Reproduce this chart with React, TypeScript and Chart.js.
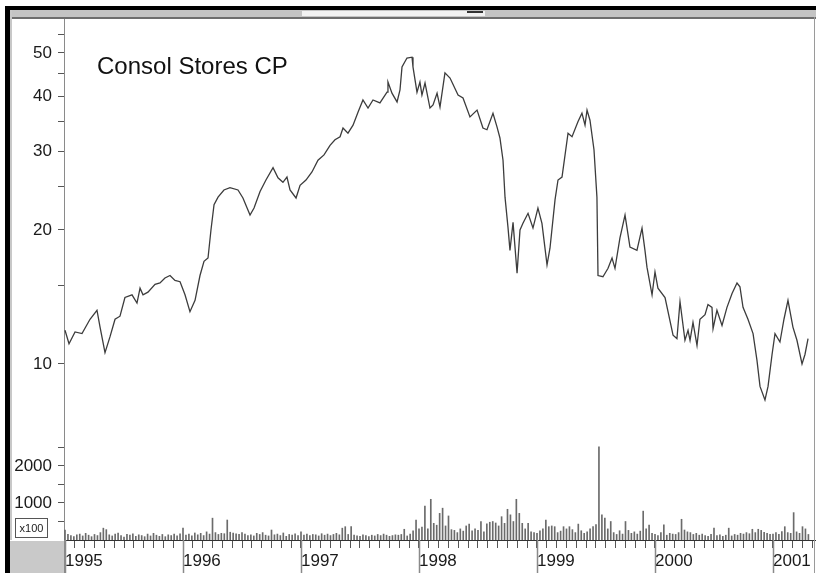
import React, { useEffect, useRef } from 'react';
import { Chart, registerables } from 'chart.js';

Chart.register(...registerables);

const TITLE = 'Consol Stores CP';
const yearLabels = ['1995', '1996', '1997', '1998', '1999', '2000', '2001'];
const firstYear = 1995;
const priceMajorTicks = [10, 20, 30, 40, 50];
const priceMinorTicks = [15, 25, 35, 45, 55];
const volumeMajorTicks = [1000, 2000];
const volumeMinorTicks = [500, 1500, 2500];
const volumeUnitLabel = 'x100';

const priceDates = [
  1995.000, 1995.034, 1995.085, 1995.144, 1995.212, 1995.271, 1995.297, 1995.339, 1995.381, 1995.424,
  1995.466, 1995.508, 1995.568, 1995.610, 1995.636, 1995.661, 1995.703, 1995.763, 1995.805, 1995.847,
  1995.890, 1995.932, 1995.975, 1996.017, 1996.059, 1996.102, 1996.144, 1996.178, 1996.212, 1996.237,
  1996.263, 1996.297, 1996.347, 1996.398, 1996.466, 1996.508, 1996.568, 1996.602, 1996.653, 1996.703,
  1996.763, 1996.805, 1996.847, 1996.881, 1996.907, 1996.958, 1996.992, 1997.042, 1997.093, 1997.144,
  1997.195, 1997.246, 1997.288, 1997.331, 1997.356, 1997.398, 1997.441, 1997.483, 1997.525, 1997.568,
  1997.610, 1997.669, 1997.729, 1997.737, 1997.771, 1997.814, 1997.839, 1997.856, 1997.898, 1997.941,
  1997.949, 1997.983, 1998.008, 1998.025, 1998.051, 1998.068, 1998.093, 1998.119, 1998.153, 1998.178,
  1998.220, 1998.263, 1998.331, 1998.373, 1998.432, 1998.492, 1998.542, 1998.576, 1998.627, 1998.661,
  1998.686, 1998.712, 1998.729, 1998.754, 1998.771, 1998.797, 1998.831, 1998.856, 1998.881, 1998.924,
  1998.966, 1999.008, 1999.042, 1999.085, 1999.110, 1999.153, 1999.178, 1999.212, 1999.263, 1999.297,
  1999.347, 1999.381, 1999.407, 1999.424, 1999.449, 1999.483, 1999.508, 1999.517, 1999.559, 1999.602,
  1999.636, 1999.661, 1999.703, 1999.746, 1999.788, 1999.847, 1999.890, 1999.915, 1999.932, 1999.975,
  2000.000, 2000.025, 2000.085, 2000.153, 2000.186, 2000.212, 2000.254, 2000.280, 2000.297, 2000.322,
  2000.356, 2000.381, 2000.424, 2000.449, 2000.483, 2000.492, 2000.525, 2000.568, 2000.610, 2000.653,
  2000.695, 2000.720, 2000.746, 2000.788, 2000.831, 2000.864, 2000.890, 2000.932, 2000.958, 2000.992,
  2001.017, 2001.059, 2001.093, 2001.127, 2001.169, 2001.203, 2001.246, 2001.271, 2001.297,
];

const priceValues = [
  11.9, 11.1, 11.8, 11.7, 12.6, 13.2, 12.1, 10.6, 11.5, 12.6,
  12.8, 14.1, 14.3, 13.7, 14.8, 14.3, 14.5, 15.1, 15.2, 15.6,
  15.8, 15.4, 15.3, 14.3, 13.1, 13.9, 15.8, 17.0, 17.3, 20.0,
  22.8, 23.7, 24.6, 24.9, 24.6, 23.6, 21.6, 22.4, 24.4, 25.9,
  27.6, 26.2, 25.6, 26.3, 24.6, 23.6, 25.2, 25.9, 27.0, 28.7,
  29.5, 31.0, 31.9, 32.4, 33.9, 33.0, 34.4, 36.8, 39.2, 37.6,
  39.2, 38.6, 40.8, 43.0, 40.6, 38.8, 41.3, 46.5, 48.7, 48.9,
  46.5, 40.8, 43.0, 40.2, 42.8, 40.6, 37.6, 38.2, 40.6, 37.8,
  45.1, 43.9, 40.2, 39.6, 35.9, 37.2, 33.9, 33.6, 36.6, 34.1,
  32.2, 28.7, 23.7, 20.3, 18.0, 20.8, 16.0, 20.0, 20.7, 21.8,
  20.2, 22.4, 20.7, 16.7, 18.2, 23.4, 25.9, 26.3, 33.0, 32.4,
  35.0, 36.6, 34.4, 37.2, 35.3, 30.3, 23.7, 15.8, 15.7, 16.4,
  17.3, 16.4, 19.2, 21.6, 18.3, 18.0, 20.2, 18.0, 16.5, 14.3,
  16.1, 14.8, 14.1, 11.6, 11.4, 13.8, 11.3, 11.9, 11.3, 12.4,
  11.0, 12.6, 12.9, 13.6, 13.4, 12.0, 13.2, 12.2, 13.4, 14.4,
  15.2, 14.9, 13.4, 12.6, 11.7, 10.2, 8.9, 8.3, 8.9, 10.5,
  11.7, 11.2, 12.6, 13.9, 12.1, 11.3, 10.0, 10.5, 11.4,
];

// Volume (x100 shares), one bar every 1/40 year starting at 1995
const volumeStepYears = 0.025;
const volumeValues = [
  // 1995
  270, 150, 120, 90, 140, 160, 110, 180, 130, 90, 150, 120, 200, 320, 280, 140, 110, 160, 190, 120,
  80, 150, 130, 170, 100, 140, 120, 90, 160, 110, 180, 130, 100, 150, 90, 140, 120, 160, 110, 170,
  // 1996
  320, 130, 160, 110, 190, 140, 180, 120, 220, 160, 590, 200, 150, 180, 170, 540, 210, 190, 170, 150,
  200, 160, 120, 140, 110, 180, 150, 200, 130, 110, 270, 140, 160, 120, 190, 100, 150, 130, 170, 120,
  // 1997
  220, 130, 160, 120, 150, 140, 110, 170, 130, 160, 120, 150, 180, 140, 320, 360, 150, 360, 130, 110,
  100, 140, 120, 90, 130, 110, 150, 120, 160, 130, 100, 120, 140, 130, 150, 290, 110, 160, 250, 540,
  // 1998
  300, 350, 920, 300, 1100, 450, 400, 720, 860, 380, 650, 280, 260, 200, 300, 240, 380, 430, 250, 300,
  260, 500, 220, 440, 480, 500, 460, 380, 630, 450, 830, 680, 500, 1100, 720, 450, 300, 450, 220, 200,
  // 1999
  180, 250, 300, 540, 360, 380, 360, 200, 240, 360, 300, 360, 280, 200, 430, 250, 180, 220, 300, 360,
  420, 2520, 680, 590, 300, 500, 200, 150, 250, 160, 500, 260, 180, 220, 160, 240, 780, 300, 400, 180,
  // 2000
  150, 120, 200, 410, 130, 180, 160, 150, 200, 560, 270, 220, 200, 150, 180, 130, 160, 120, 100, 150,
  320, 120, 140, 100, 130, 320, 110, 150, 130, 180, 160, 200, 170, 290, 200, 290, 260, 210, 180, 150,
  // 2001
  160, 200, 150, 230, 360, 200, 180, 740, 220, 180, 360, 300, 150,
];

const SANS = "'Liberation Sans', Arial, sans-serif";

const decorPlugin = {
  id: 'decor',
  beforeDraw(chart: any) {
    const { ctx, width, height } = chart;
    ctx.save();
    ctx.fillStyle = '#ffffff';
    ctx.fillRect(0, 0, width, height);
    ctx.restore();
  },
  afterDraw(chart: any) {
    const { ctx, chartArea } = chart;
    const xs = chart.scales.x;
    ctx.save();
    // top toolbar strip
    ctx.fillStyle = '#c4c4c4';
    ctx.fillRect(10, 10, 806, 7);
    ctx.fillStyle = '#f2f2f2';
    ctx.fillRect(302, 11, 183, 5);
    ctx.fillStyle = '#333';
    ctx.fillRect(467, 11, 16, 2);
    ctx.fillStyle = '#6e6e6e';
    ctx.fillRect(10, 17, 806, 2);
    // left light strip
    ctx.fillStyle = '#c8c8c8';
    ctx.fillRect(10, 10, 2, 530);
    // bottom-left grey box
    ctx.fillStyle = '#c9c9c9';
    ctx.fillRect(10, chartArea.bottom + 1, chartArea.left - 10, 573 - chartArea.bottom);
    // right border
    ctx.strokeStyle = '#9a9a9a';
    ctx.lineWidth = 1;
    ctx.beginPath();
    ctx.moveTo(814.5, 17);
    ctx.lineTo(814.5, 573);
    ctx.stroke();
    // axis line continuation
    ctx.strokeStyle = '#8a8a8a';
    ctx.beginPath();
    ctx.moveTo(chartArea.left + 0.5, chartArea.bottom);
    ctx.lineTo(chartArea.left + 0.5, 573);
    ctx.stroke();
    // year separators
    ctx.strokeStyle = '#8a8a8a';
    ctx.lineWidth = 1.5;
    yearLabels.forEach((_, i) => {
      const px = Math.round(xs.getPixelForValue(firstYear + i)) + 0.5;
      ctx.beginPath();
      ctx.moveTo(px, chartArea.bottom);
      ctx.lineTo(px, 573);
      ctx.stroke();
    });
    // volume unit box
    ctx.lineWidth = 1;
    ctx.strokeStyle = '#555';
    ctx.fillStyle = '#ffffff';
    ctx.fillRect(15.5, 518.5, 32, 19);
    ctx.strokeRect(15.5, 518.5, 32, 19);
    ctx.fillStyle = '#222';
    ctx.font = `11px ${SANS}`;
    ctx.textAlign = 'center';
    ctx.textBaseline = 'middle';
    ctx.fillText(volumeUnitLabel, 31.5, 528.5);
    // title
    ctx.font = `24px ${SANS}`;
    ctx.textAlign = 'left';
    ctx.textBaseline = 'alphabetic';
    ctx.fillStyle = '#111';
    ctx.fillText(TITLE, 97, 74);
    // black frame
    ctx.fillStyle = '#000';
    ctx.fillRect(5, 6, 811, 4);
    ctx.fillRect(5, 6, 5, 567);
    ctx.restore();
  },
};

export default function App() {
  const ref = useRef<HTMLCanvasElement | null>(null);

  useEffect(() => {
    document.body.style.margin = '0';
    const canvas = ref.current;
    if (!canvas) return;

    const priceData = priceDates.map((d, i) => ({ x: d, y: priceValues[i] }));
    const volumeData = volumeValues.map((v, i) => ({ x: firstYear + i * volumeStepYears, y: v }));
    const monthTicks: number[] = [];
    for (let m = 0; m <= 76; m++) monthTicks.push(firstYear + m / 12);
    const priceTicks = [...priceMajorTicks, ...priceMinorTicks].sort((a, b) => a - b);
    const volumeTicks = [...volumeMajorTicks, ...volumeMinorTicks].sort((a, b) => a - b);

    const chart = new Chart(canvas, {
      type: 'line',
      data: {
        datasets: [
          {
            type: 'bar',
            label: 'Volume',
            data: volumeData as any,
            xAxisID: 'x',
            yAxisID: 'yv',
            backgroundColor: '#6b6b6b',
            borderWidth: 0,
            barThickness: 1,
            grouped: false,
          } as any,
          {
            type: 'line',
            label: TITLE,
            data: priceData as any,
            xAxisID: 'x',
            yAxisID: 'yp',
            borderColor: '#3c3c3c',
            borderWidth: 1.3,
            pointRadius: 0,
            tension: 0,
            fill: false,
          } as any,
        ],
      },
      options: {
        animation: false,
        responsive: false,
        devicePixelRatio: 1,
        events: [],
        layout: { padding: { top: 19, right: 1, bottom: 0, left: 0 } },
        plugins: {
          legend: { display: false },
          tooltip: { enabled: false },
          title: { display: false },
        },
        scales: {
          x: {
            type: 'linear',
            position: 'bottom',
            min: 1994.9915,
            max: 2001.356,
            offset: false,
            afterFit: (s: any) => { s.height = 33; },
            afterBuildTicks: (s: any) => { s.ticks = monthTicks.map((v) => ({ value: v })); },
            grid: {
              offset: false,
              drawOnChartArea: false,
              drawTicks: true,
              tickLength: 8,
              color: '#555',
              lineWidth: 1,
            },
            border: { display: true, color: '#333', width: 1 },
            ticks: {
              autoSkip: false,
              maxRotation: 0,
              minRotation: 0,
              align: 'start',
              padding: 3,
              color: '#1a1a1a',
              font: { family: SANS, size: 17 },
              callback: (_v: any, index: number) => (index % 12 === 0 ? yearLabels[index / 12] ?? '' : ''),
            },
          },
          yv: {
            type: 'linear',
            position: 'left',
            stack: 'left',
            stackWeight: 120,
            min: 0,
            max: 3243,
            afterFit: (s: any) => { s.width = 64; },
            afterBuildTicks: (s: any) => { s.ticks = volumeTicks.map((v) => ({ value: v })); },
            grid: { drawOnChartArea: false, drawTicks: true, tickLength: 6, color: '#555' },
            border: { display: true, color: '#8a8a8a', width: 1 },
            ticks: {
              autoSkip: false,
              padding: 6,
              color: '#1a1a1a',
              font: { family: SANS, size: 17 },
              callback: (v: any) => (volumeMajorTicks.includes(Number(v)) ? String(v) : ''),
            },
          },
          yp: {
            type: 'logarithmic',
            position: 'left',
            stack: 'left',
            stackWeight: 401,
            min: 7.48,
            max: 59.6,
            afterFit: (s: any) => { s.width = 64; },
            afterBuildTicks: (s: any) => { s.ticks = priceTicks.map((v) => ({ value: v })); },
            grid: { drawOnChartArea: false, drawTicks: true, tickLength: 6, color: '#555' },
            border: { display: true, color: '#8a8a8a', width: 1 },
            ticks: {
              autoSkip: false,
              padding: 6,
              color: '#1a1a1a',
              font: { family: SANS, size: 17 },
              callback: (v: any) => (priceMajorTicks.includes(Number(v)) ? String(v) : ''),
            },
          },
        } as any,
      },
      plugins: [decorPlugin],
    });

    return () => chart.destroy();
  }, []);

  return (
    <div style={{ width: 816, height: 573, overflow: 'hidden' }}>
      <canvas ref={ref} width={816} height={573} style={{ display: 'block', width: 816, height: 573 }} />
    </div>
  );
}
